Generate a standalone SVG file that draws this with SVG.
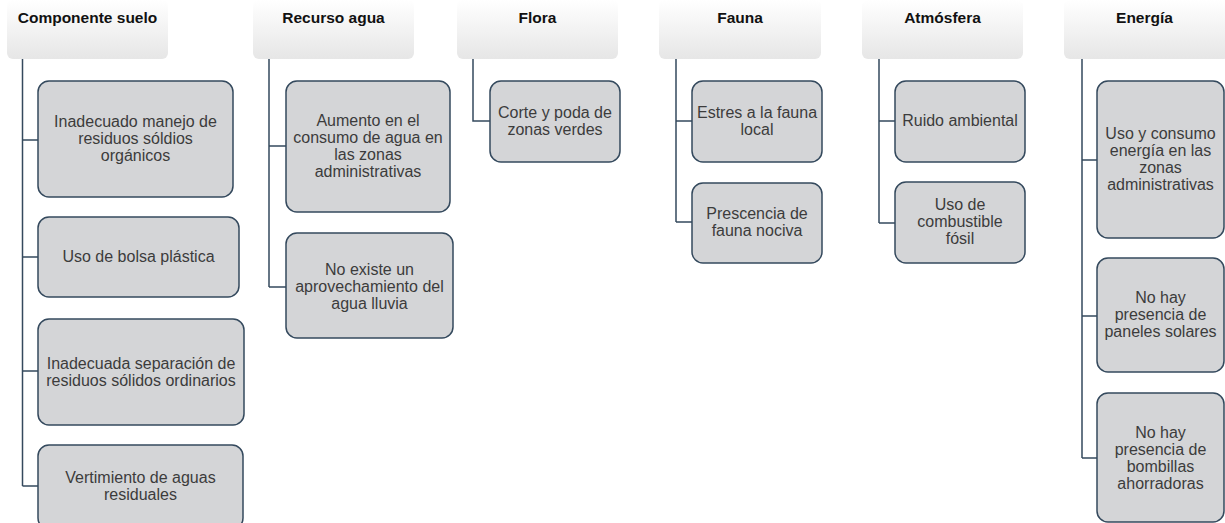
<svg xmlns="http://www.w3.org/2000/svg" width="1225" height="523" viewBox="0 0 1225 523">
<defs>
<linearGradient id="hg" x1="0" y1="0" x2="0" y2="1">
<stop offset="0" stop-color="#ffffff"/>
<stop offset="1" stop-color="#e6e6e6"/>
</linearGradient>
<style>
.hdr{fill:url(#hg);}
.ht{font-family:"Liberation Sans",Arial,sans-serif;font-weight:bold;font-size:15.5px;fill:#111;text-anchor:middle;}
.box{fill:#d4d5d7;stroke:#34495d;stroke-width:1.5;}
.bt{font-family:"Liberation Sans",Arial,sans-serif;font-size:16px;fill:#3c3c3c;text-anchor:middle;}
.con{fill:none;stroke:#34495d;stroke-width:1.5;}
</style>
</defs>
<rect width="1225" height="523" fill="#ffffff"/>

<g id="connectors">
<path class="con" d="M22.5 59 V486 M22.5 140 H38 M22.5 257 H38 M22.5 371 H38 M22.5 486 H38"/>
<path class="con" d="M269 59 V287 M269 146 H286 M269 287 H286"/>
<path class="con" d="M473 59 V121 H490"/>
<path class="con" d="M676 59 V222 M676 121 H692 M676 222 H692"/>
<path class="con" d="M879 59 V223 M879 121 H895 M879 223 H895"/>
<path class="con" d="M1082 59 V458 M1082 160 H1097 M1082 316 H1097 M1082 458 H1097"/>
</g>

<g id="h-suelo"><rect class="hdr" x="7" y="0" width="161" height="59" rx="6"/><text class="ht" x="87.5" y="23">Componente suelo</text></g>
<g id="h-agua"><rect class="hdr" x="253" y="0" width="161" height="59" rx="6"/><text class="ht" x="333.5" y="23">Recurso agua</text></g>
<g id="h-flora"><rect class="hdr" x="457" y="0" width="161" height="59" rx="6"/><text class="ht" x="537.5" y="23">Flora</text></g>
<g id="h-fauna"><rect class="hdr" x="659" y="0" width="162" height="59" rx="6"/><text class="ht" x="740" y="23">Fauna</text></g>
<g id="h-atm"><rect class="hdr" x="862" y="0" width="161" height="59" rx="6"/><text class="ht" x="942.5" y="23">Atmósfera</text></g>
<g id="h-energia"><rect class="hdr" x="1064" y="0" width="165" height="59" rx="6"/><text class="ht" x="1144.5" y="23">Energía</text></g>

<g id="s1"><rect class="box" x="38" y="81" width="195" height="116" rx="11"/>
<text class="bt" x="135.5" y="127">Inadecuado manejo de</text><text class="bt" x="135.5" y="144">residuos sóldios</text><text class="bt" x="135.5" y="161">orgánicos</text></g>
<g id="s2"><rect class="box" x="38" y="217" width="201" height="80" rx="11"/>
<text class="bt" x="138.5" y="262">Uso de bolsa plástica</text></g>
<g id="s3"><rect class="box" x="38" y="319" width="206" height="106" rx="11"/>
<text class="bt" x="141" y="368.5">Inadecuada separación de</text><text class="bt" x="141" y="385.5">residuos sólidos ordinarios</text></g>
<g id="s4"><rect class="box" x="38" y="445" width="205" height="84" rx="11"/>
<text class="bt" x="140.5" y="482.5">Vertimiento de aguas</text><text class="bt" x="140.5" y="499.5">residuales</text></g>

<g id="a1"><rect class="box" x="286" y="81" width="164" height="131" rx="11"/>
<text class="bt" x="368" y="125.5">Aumento en el</text><text class="bt" x="368" y="142.5">consumo de agua en</text><text class="bt" x="368" y="159.5">las zonas</text><text class="bt" x="368" y="176.5">administrativas</text></g>
<g id="a2"><rect class="box" x="286" y="233" width="167" height="105" rx="11"/>
<text class="bt" x="369.5" y="275">No existe un</text><text class="bt" x="369.5" y="292">aprovechamiento del</text><text class="bt" x="369.5" y="309">agua lluvia</text></g>

<g id="f1"><rect class="box" x="490" y="81" width="130" height="81" rx="11"/>
<text class="bt" x="555" y="117.5">Corte y poda de</text><text class="bt" x="555" y="134.5">zonas verdes</text></g>

<g id="fa1"><rect class="box" x="692" y="81" width="130" height="81" rx="11"/>
<text class="bt" x="757" y="117.5">Estres a la fauna</text><text class="bt" x="757" y="134.5">local</text></g>
<g id="fa2"><rect class="box" x="692" y="183" width="130" height="80" rx="11"/>
<text class="bt" x="757" y="218.5">Prescencia de</text><text class="bt" x="757" y="235.5">fauna nociva</text></g>

<g id="at1"><rect class="box" x="895" y="81" width="130" height="81" rx="11"/>
<text class="bt" x="960" y="126">Ruido ambiental</text></g>
<g id="at2"><rect class="box" x="895" y="182" width="130" height="81" rx="11"/>
<text class="bt" x="960" y="210">Uso de</text><text class="bt" x="960" y="227">combustible</text><text class="bt" x="960" y="244">fósil</text></g>

<g id="e1"><rect class="box" x="1097" y="81" width="127" height="157" rx="11"/>
<text class="bt" x="1160.5" y="139">Uso y consumo</text><text class="bt" x="1160.5" y="156">energía en las</text><text class="bt" x="1160.5" y="173">zonas</text><text class="bt" x="1160.5" y="190">administrativas</text></g>
<g id="e2"><rect class="box" x="1097" y="258" width="127" height="114" rx="11"/>
<text class="bt" x="1160.5" y="303">No hay</text><text class="bt" x="1160.5" y="320">presencia de</text><text class="bt" x="1160.5" y="337">paneles solares</text></g>
<g id="e3"><rect class="box" x="1097" y="393" width="127" height="129" rx="11"/>
<text class="bt" x="1160.5" y="437.5">No hay</text><text class="bt" x="1160.5" y="454.5">presencia de</text><text class="bt" x="1160.5" y="471.5">bombillas</text><text class="bt" x="1160.5" y="488.5">ahorradoras</text></g>
</svg>
